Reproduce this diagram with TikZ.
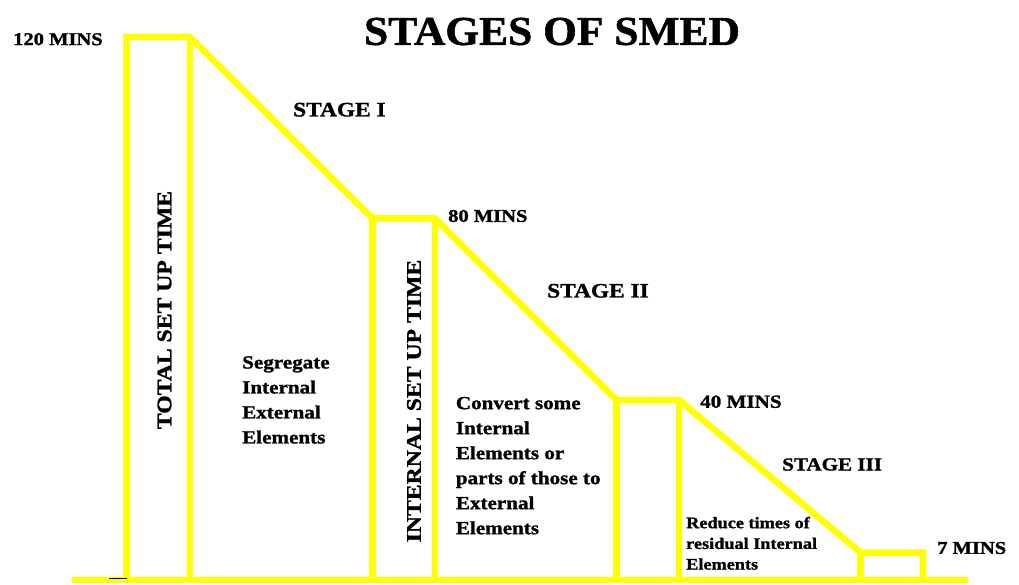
\documentclass[tikz,border=0pt]{standalone}
\usepackage{fontspec}
\newfontfamily\lblfont{Liberation Serif}[FakeStretch=1.14,FakeBold=1.3]
\newfontfamily\ttlfont{Liberation Serif}[FakeStretch=1.06,FakeBold=1.2]
\definecolor{barYellow}{RGB}{255,255,0}
\tikzset{
  barline/.style={draw=barYellow,line width=6.5pt,line join=miter,line cap=butt},
  lbl/.style={inner sep=0pt,font=\lblfont\bfseries\fontsize{#1}{#1}\selectfont,text=black},
  lbl/.default=18,
  para/.style 2 args={inner sep=0pt,align=left,anchor=north west,font=\lblfont\bfseries\fontsize{#1}{#2}\selectfont,text=black},
}
\begin{document}
\begin{tikzpicture}[x=1pt,y=-1pt]
\useasboundingbox[fill=white] (0,0) rectangle (1019,585);
% key points
\coordinate (b1bl) at (126.5,580); \coordinate (b1tl) at (126.5,37);
\coordinate (b1tr) at (190,37);    \coordinate (b1br) at (190,580);
\coordinate (b2bl) at (372.5,580); \coordinate (b2tl) at (372.5,218.5);
\coordinate (b2tr) at (435,218.5); \coordinate (b2br) at (435,580);
\coordinate (b3bl) at (616.5,580); \coordinate (b3tl) at (616.5,400);
\coordinate (b3tr) at (679,400);   \coordinate (b3br) at (679,580);
\coordinate (b4bl) at (860.5,580); \coordinate (b4tl) at (860.5,552.5);
\coordinate (b4tr) at (923,552.5); \coordinate (b4br) at (923,580);
\coordinate (axl) at (72,580); \coordinate (axr) at (968,580);
% outline
\draw[barline] (b1bl) -- (b1tl) -- (b1tr) -- (b2tl) -- (b2tr) -- (b3tl) -- (b3tr) -- (b4tl) -- (b4tr) -- (b4br);
\draw[barline] (b1tr) -- (b1br);
\draw[barline] (b2tl) -- (b2bl);
\draw[barline] (b2tr) -- (b2br);
\draw[barline] (b3tl) -- (b3bl);
\draw[barline] (b3tr) -- (b3br);
\draw[barline] (b4tl) -- (b4bl);
\draw[barline] (axl) -- (axr);
\coordinate (dl) at (109.3,578.6); \coordinate (dr) at (126.7,578.6);
\draw[black,line width=1pt] (dl) -- (dr);
% texts
\node[inner sep=0pt,font=\ttlfont\bfseries\fontsize{41}{41}\selectfont] (title) at (552,31.5) {STAGES OF SMED};
\node[lbl=18,anchor=west] (m120) at (13,39.2) {120 MINS};
\node[lbl=20.5,anchor=west] (s1) at (293,109.7) {STAGE I};
\node[lbl=18,anchor=west] (m80) at (448,216) {80 MINS};
\node[lbl=20.5,anchor=west] (s2) at (547,290.8) {STAGE II};
\node[lbl=18.5,anchor=west] (m40) at (700,401.7) {40 MINS};
\node[lbl=18.5,anchor=west] (s3) at (782,464.5) {STAGE III};
\node[lbl=18,anchor=west] (m7) at (937,548) {7 MINS};
\node[lbl=20.8,rotate=90] (tot) at (164.5,310) {TOTAL SET UP TIME};
\node[lbl=20.8,rotate=90] (int) at (414,401) {INTERNAL SET UP TIME};
\node[para={18.5}{25}] (seg) at (242,356) {Segregate\\Internal\\External\\Elements};
\node[para={18.5}{25}] (conv) at (455.7,396.7) {Convert some\\Internal\\Elements or\\parts of those to\\External\\Elements};
\node[para={16}{20.7}] (red) at (686,516.7) {Reduce times of\\residual Internal\\Elements};
\end{tikzpicture}
\end{document}
